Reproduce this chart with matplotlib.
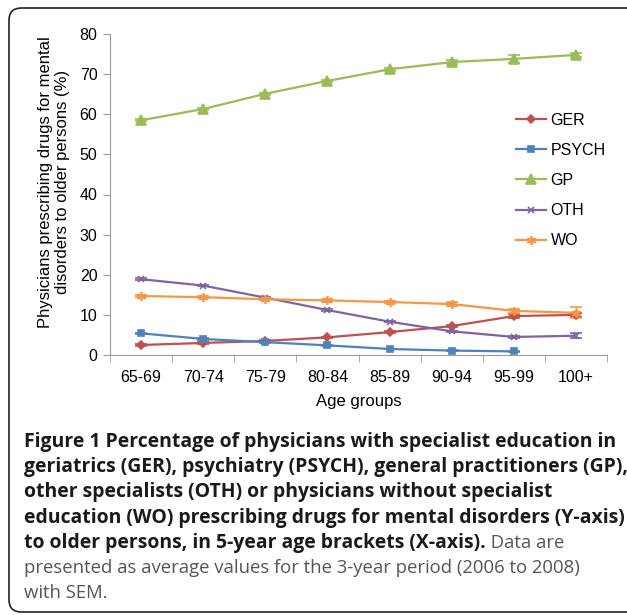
import matplotlib.pyplot as plt
from matplotlib.patches import FancyBboxPatch

plt.rcParams['font.family'] = ['Liberation Sans', 'DejaVu Sans']

ages = ["65-69", "70-74", "75-79", "80-84", "85-89", "90-94", "95-99", "100+"]

ger = [2.5, 3.0, 3.5, 4.4, 5.7, 7.2, 9.7, 10.0]
ger_sem = [0.2, 0.2, 0.2, 0.2, 0.2, 0.3, 0.4, 0.5]
psych = [5.4, 4.0, 3.2, 2.4, 1.5, 1.1, 0.9]
psych_sem = [0.2, 0.2, 0.2, 0.1, 0.1, 0.1, 0.1]
gp = [58.5, 61.3, 65.1, 68.3, 71.2, 73.0, 73.8, 74.8]
gp_sem = [0.3, 0.3, 0.3, 0.3, 0.3, 0.4, 1.0, 0.5]
oth = [18.9, 17.3, 14.3, 11.2, 8.3, 5.9, 4.5, 4.8]
oth_sem = [0.2, 0.2, 0.2, 0.2, 0.2, 0.2, 0.3, 0.6]
wo = [14.7, 14.4, 13.9, 13.6, 13.2, 12.7, 11.0, 10.5]
wo_sem = [0.3, 0.3, 0.3, 0.3, 0.3, 0.4, 0.5, 1.4]

fig = plt.figure(figsize=(6.27, 6.15), dpi=100)

# rounded frame around figure + caption
frame = FancyBboxPatch((9 / 627, 1 - 612 / 615), 720 / 627, 604 / 615,
                       boxstyle="round,pad=0,rounding_size=0.02",
                       transform=fig.transFigure, fill=False,
                       edgecolor="#222222", linewidth=1.2)
fig.patches.append(frame)

ax = fig.add_axes([110 / 627, 1 - 355 / 615, 497 / 627, 321 / 615])

x = list(range(len(ages)))
series = [
    ("GER", ger, ger_sem, "#C0504D", "D", 4.5),
    ("PSYCH", psych, psych_sem, "#4F81BD", "s", 4.5),
    ("GP", gp, gp_sem, "#9BBB59", "^", 6.5),
    ("OTH", oth, oth_sem, "#8064A2", "x", 4.5),
    ("WO", wo, wo_sem, "#F79646", (6, 2, 0), 6.5),
]
for name, vals, sem, col, mk, ms in series:
    ax.errorbar(x[:len(vals)], vals, yerr=sem, color=col, marker=mk,
                markersize=ms, linewidth=1.6, elinewidth=1.0, capsize=4,
                capthick=1.0, markeredgewidth=1.2, label=name)

ax.set_xlim(-0.5, 7.5)
ax.set_ylim(0, 80)
ax.set_yticks(range(0, 81, 10))
ax.set_xticks(x)
ax.set_xticklabels(ages)
ax.set_xticks([i - 0.5 for i in range(9)], minor=True)
ax.tick_params(axis='x', which='major', length=0, pad=11, labelsize=11.5)
ax.tick_params(axis='x', which='minor', length=5, color="#999999", direction='out')
ax.tick_params(axis='y', length=5, color="#999999", labelsize=11.5, pad=4)
for s in ["top", "right"]:
    ax.spines[s].set_visible(False)
for s in ["left", "bottom"]:
    ax.spines[s].set_color("#999999")
ax.set_xlabel("Age groups", fontsize=12, labelpad=6)

fig.text(54 / 627, 1 - 182 / 615,
         "Physicians prescribing drugs for mental\ndisorders to older persons (%)",
         rotation=90, ha="center", va="center", fontsize=12, linespacing=1.15)

handles, labels = ax.get_legend_handles_labels()
handles = [h[0] for h in handles]
ax.legend(handles, labels, loc="upper left", bbox_to_anchor=(0.787, 0.8),
          frameon=False, fontsize=11.5, handlelength=1.9, handletextpad=0.3,
          labelspacing=0.95)

# caption
bold = ["Figure 1 Percentage of physicians with specialist education in",
        "geriatrics (GER), psychiatry (PSYCH), general practitioners (GP),",
        "other specialists (OTH) or physicians without specialist",
        "education (WO) prescribing drugs for mental disorders (Y-axis)",
        "to older persons, in 5-year age brackets (X-axis)."]
normal_tail = " Data are"
normal = ["presented as average values for the 3-year period (2006 to 2008)",
          "with SEM."]
cap_font = ['Open Sans', 'DejaVu Sans']
left_px = 24
y0 = 442
step = 25.2
fig.canvas.draw()
renderer = fig.canvas.get_renderer()


def fit_size(line, weight, target_px):
    t = fig.text(0, 0, line, family=cap_font, fontsize=10, fontweight=weight)
    w = t.get_window_extent(renderer=renderer).width
    t.remove()
    return 10 * target_px / w


bold_size = fit_size(bold[0], "bold", 593)
norm_size = fit_size(normal[0], "normal", 553)

for i, line in enumerate(bold):
    t = fig.text(left_px / 627, 1 - (y0 + i * step) / 615, line, family=cap_font,
                 fontsize=bold_size, fontweight="bold", color="#1a1a1a",
                 va="center", ha="left")
    if i == len(bold) - 1:
        bb = t.get_window_extent(renderer=renderer)
        fig.text(bb.x1 / fig.bbox.width, 1 - (y0 + i * step) / 615, normal_tail,
                 family=cap_font, fontsize=norm_size, color="#555555",
                 va="center", ha="left")
for j, line in enumerate(normal):
    fig.text(left_px / 627, 1 - (y0 + (len(bold) + j) * step) / 615, line,
             family=cap_font, fontsize=norm_size, color="#555555",
             va="center", ha="left")

fig.savefig("out.png", dpi=100)
